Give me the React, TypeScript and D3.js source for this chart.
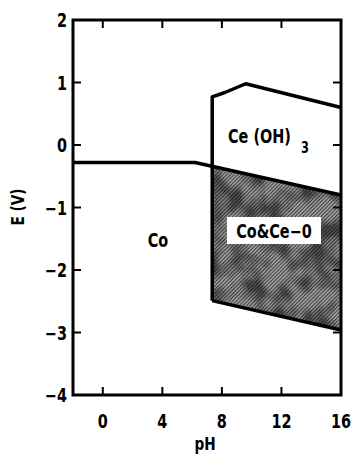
import React from 'react'
import * as d3 from 'd3'

// E-pH diagram values (pH, E in V)
const coLine: [number, number][] = [[-2, -0.28], [6.2, -0.28], [16, -0.8]]
const ceTop: [number, number][] = [[7.35, 0.77], [8.2, 0.84], [9.6, 0.98], [16, 0.6]]
const ceBottom: [number, number][] = [[7.35, -2.49], [16, -2.96]]
const xTicks = [0, 4, 8, 12, 16]
const yTicks = [2, 1, 0, -1, -2, -3, -4]

const W = 353
const H = 454
const m = { left: 73, top: 20, right: 341, bottom: 395 }
const FONT = "'DejaVu Sans', sans-serif"
const SX = 0.76 // horizontal squeeze, the original uses a condensed face

// condensed text: position, then squeeze horizontally
const T = (p: { x: number, y: number, anchor?: string, size?: number, rot?: number, children: React.ReactNode }) => (
    <text transform={`translate(${p.x},${p.y}) rotate(${p.rot ?? 0}) scale(${SX},1)`}
        textAnchor={p.anchor ?? 'start'} fontSize={p.size ?? 19}>{p.children}</text>
)

const App = () => {
    const x = d3.scaleLinear().domain([-2, 16]).range([m.left, m.right])
    const y = d3.scaleLinear().domain([-4, 2]).range([m.bottom, m.top])
    const line = d3.line<[number, number]>().x(d => x(d[0])).y(d => y(d[1]))

    // where the Co line crosses the Ce vertical boundary
    const splitPH = ceTop[0][0]
    const coAt = (ph: number) => {
        const a = coLine[1], b = coLine[2]
        return a[1] + (b[1] - a[1]) * (ph - a[0]) / (b[0] - a[0])
    }
    const shaded: [number, number][] = [
        [splitPH, coAt(splitPH)],
        coLine[2],
        ceBottom[1],
        ceBottom[0],
    ]
    const ceBoundary: [number, number][] = [ceBottom[0], ...ceTop]

    const tickLen = 8
    return (
        <svg width={W} height={H} style={{ position: 'absolute', left: 0, top: 0, background: 'white' }}>
            <defs>
                <pattern id="hatch" width="2.6" height="2.6" patternUnits="userSpaceOnUse" patternTransform="rotate(45)">
                    <rect width="2.6" height="2.6" fill="#9a9a9a" />
                    <line x1="0" y1="0" x2="0" y2="2.6" stroke="#262626" strokeWidth="1.4" />
                </pattern>
                <filter id="mottle" x="0" y="0" width="1" height="1">
                    <feTurbulence type="fractalNoise" baseFrequency="0.045" numOctaves="2" seed="4" />
                    <feColorMatrix type="matrix" values="0 0 0 0 0  0 0 0 0 0  0 0 0 0 0  3.2 0 0 0 -1.2" />
                    <feComposite in2="SourceGraphic" operator="in" />
                </filter>
            </defs>

            {/* shaded Co & Ce-0 region */}
            <path d={line(shaded) + 'Z'} fill="url(#hatch)" />
            <path d={line(shaded) + 'Z'} fill="black" filter="url(#mottle)" opacity={0.5} />

            {/* boundary lines */}
            <path d={line(coLine)!} fill="none" stroke="black" strokeWidth={3.5} strokeLinejoin="round" />
            <path d={line(ceBoundary)!} fill="none" stroke="black" strokeWidth={3.5} strokeLinejoin="round" />
            <path d={line(ceBottom)!} fill="none" stroke="black" strokeWidth={3.5} />

            {/* frame */}
            <rect x={m.left} y={m.top} width={m.right - m.left} height={m.bottom - m.top}
                fill="none" stroke="black" strokeWidth={3} />

            {/* ticks */}
            {yTicks.slice(1, -1).map(t => (
                <g key={'y' + t}>
                    <line x1={m.left} x2={m.left + tickLen} y1={y(t)} y2={y(t)} stroke="black" strokeWidth={2} />
                    <line x1={m.right} x2={m.right - tickLen} y1={y(t)} y2={y(t)} stroke="black" strokeWidth={2} />
                </g>
            ))}
            {xTicks.slice(0, -1).map(t => (
                <g key={'x' + t}>
                    <line x1={x(t)} x2={x(t)} y1={m.bottom} y2={m.bottom - tickLen} stroke="black" strokeWidth={2} />
                    <line x1={x(t)} x2={x(t)} y1={m.top} y2={m.top + tickLen} stroke="black" strokeWidth={2} />
                </g>
            ))}

            {/* tick labels */}
            <g fontFamily={FONT} fontWeight="bold">
                {yTicks.map(t => (
                    <T key={'yl' + t} x={m.left - 6} y={y(t) + 7} anchor="end">
                        {t < 0 ? '\u2212' + Math.abs(t) : t}
                    </T>
                ))}
                {xTicks.map(t => (
                    <T key={'xl' + t} x={x(t)} y={428} anchor="middle">{t}</T>
                ))}
                <T x={205} y={450} anchor="middle" size={18}>pH</T>
                <T x={24} y={207} anchor="middle" rot={-90} size={18}>E (V)</T>
            </g>

            {/* region labels */}
            <g fontFamily={FONT} fontWeight="bold">
                <T x={158} y={247} anchor="middle">Co</T>
                <T x={228} y={143}>Ce (OH)</T>
                <T x={301} y={153} size={15}>3</T>
                <rect x={227} y={217} width={94} height={27} fill="white" />
                <T x={274} y={238} anchor="middle">Co&amp;Ce{'\u2212'}0</T>
            </g>
        </svg>
    )
}

export default App
